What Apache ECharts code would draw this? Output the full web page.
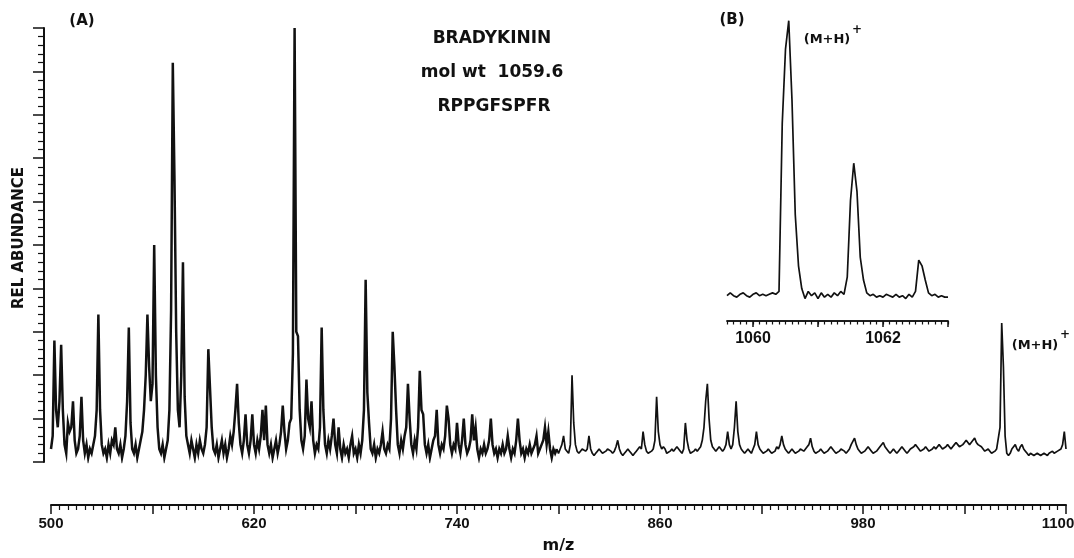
<!DOCTYPE html>
<html>
<head>
<meta charset="utf-8">
<script src="https://cdn.jsdelivr.net/npm/echarts@6.0.0/dist/echarts.min.js"></script>
<style>
  html, body { margin: 0; padding: 0; background: #fff; }
  #main { width: 1074px; height: 558px; }
</style>
</head>
<body>
<div id="main"></div>
<script>
// relative abundance (%), one value per m/z unit
var abund500 = [3,6,28,12,8,14,27,12,4,2, 9,7,8,14,5,2,3,6,15,5, 2,4,1,3,2,4,6,12,34,12, 4,2,3,1,4,2,5,4,8,3,
  2,4,1,3,6,14,31,9,3,2, 4,1,3,5,7,12,20,34,22,14, 18,50,20,8,3,2,4,1,3,5, 12,35,92,65,30,12,8,20,46,15,
  6,4,2,5,3,1,4,2,5,3, 2,4,8,26,26,8,3,2,4,1];
var abund600 = [3,5,2,4,1,3,6,4,7,12, 18,9,4,2,5,11,4,2,5,11, 4,2,5,3,6,12,5,13,4,2, 4,1,3,5,2,4,7,13,7,3,
  5,9,10,25,100,30,29,12,5,3, 6,19,10,8,14,5,2,4,3,8, 31,12,4,2,5,3,6,10,4,2, 8,3,1,4,2,3,1,4,6,2,
  3,1,4,2,5,12,42,16,9,3, 2,4,1,3,2,4,7,3,2,4];
var abund700 = [3,10,30,22,12,4,2,5,3,6, 8,18,10,4,2,5,3,8,21,12, 11,4,2,4,1,3,5,6,12,4, 2,4,3,6,13,10,4,2,4,3,
  9,4,2,5,10,4,2,3,5,11, 5,8,3,1,3,2,4,2,3,5, 10,4,2,3,1,3,2,4,2,3, 6,3,1,3,2,5,10,5,2,3,
  1,3,2,4,2,3,4,6,2,3, 4,5,8,4,7,3,1,3,2,3];
var abund800 = [2,3,4,6,3,2.5,2,4,20,9, 4,2.5,2,2.5,3,3,2.5,3,6,3, 2,1.5,2,2.5,3,2.5,2,2,2.5,3, 3,2.5,2,2.5,3.5,5,3,2,1.5,2,
  2.5,3,2.5,2,1.5,2,2.5,3,3.5,3, 7,4,2.5,2,2,2.5,3,5,15,7, 4,3,3.5,3,2,2,2.5,3,2.5,3, 3.5,3,2.5,2,3,9,5,3,2,2,
  2.5,3,2.5,3,3.5,5,8,14,18,10, 5,3.5,3,2.5,3,3.5,3,2.5,3,4];
var abund900 = [7,4,3,4,8,14,7,4,3,2.5, 2,2.5,3,2.5,2,3,4,7,4,3, 2.5,2,2,2.5,3,2.5,2,2,2.5,3.5, 3,4,6,4,3,2.5,2,2.5,3,2.5,
  2,2,2.5,3,3,2.5,3,3.5,4,5.5, 3.5,2.5,2,2,2.5,3,2.5,2,2,2.5, 3,3.5,3,2.5,2,2,2.5,3,3,2.5, 2,2.5,3,4,4,5.5,4,3,2.5,2,
  2,2.5,3,3.5,3,2.5,2,2,2.5,3, 3.5,3.5,4.5,3.5,3,2.5,2,2.5,3,2.5];
var abund1000 = [2,2.5,3,3.5,3,2.5,2,2.5,3,3, 3.5,4,3.5,3,2.5,2.5,3,3.5,3,2.5, 2.5,3,3.5,3,3.5,4,3.5,3,3,3.5, 4,3.5,3,3.5,4,4.5,4,3.5,3.5,4,
  4.5,5,4.5,4,4.5,5,5.5,4.5,4,4, 3.5,3,2.5,2.5,3,2.5,2,2,2.5,3, 3,8,32,22,6,2,1.5,2,3,3.5, 4,3,2.5,3.5,4,3,2.5,2,1.5,2,
  2,1.5,1.5,2,2,1.5,1.5,2,2,1.5, 2,2,2.5,2,2,2.5,2.5,3,4,7, 3];

// inset (B): isotope cluster of (M+H)+, one value every 0.05 from 1059.60
var insetStart = 1059.6;
var insetStep = 0.05;
var insetAbund = [1.5,2.5,1.5,1,2,2.5,1.5,1, 2,2.5,1.5,2,1.5,2,2.5,2, 3,62,88,98,70,30,12,4,
  0.5,3,1.5,2.5,0.5,2.5,1,2, 1,2.5,1.5,3, 2,8,35,48,38,15,7,2.5, 1.5,2,1,1.5,1,2,1.5,1,
  2,1,1.5,0.5,2,1, 3,14,12,7,2.5,1.5, 2,1,1.5,1,1];

var mainTicks = [500, 620, 740, 860, 980, 1100];
var insetMajor = [1060, 1061, 1062, 1063];
var insetLabels = [1060, 1062];

function toPairs(chunks, first) {
    var out = [];
    chunks.forEach(function (arr, k) {
        for (var i = 0; i < arr.length; i++) {
            out.push([first + k * 100 + i, arr[i]]);
        }
    });
    return out;
}
// dense low-mass part drawn heavier, like the original trace
var denseData = toPairs([abund500, abund600, abund700], 500);
var sparseData = toPairs([abund800, abund900, abund1000], 800);
sparseData.unshift(denseData[denseData.length - 1]);

var insetData = insetAbund.map(function (v, i) {
    return [Math.round((insetStart + i * insetStep) * 100) / 100, v];
});

var ink = '#111';
var numFont = 'Liberation Sans';
var letFont = 'DejaVu Sans';

function txt(x, y, text, size, rot) {
    return {
        type: 'text', x: x, y: y, rotation: rot || 0,
        style: {
            text: text, fill: ink, font: 'bold ' + size + 'px "' + letFont + '"',
            align: 'center', verticalAlign: 'middle', textAlign: 'center', textVerticalAlign: 'middle'
        }
    };
}

var option = {
    animation: false,
    backgroundColor: '#fff',
    grid: [
        { left: 51, right: 8, top: 28, bottom: 96, outerBoundsMode: 'none', containLabel: false },
        { left: 727, width: 221, top: 15, height: 285, outerBoundsMode: 'none', containLabel: false }
    ],
    xAxis: [
        {
            gridIndex: 0, type: 'value', min: 500, max: 1100, interval: 60,
            position: 'bottom', offset: 43,
            axisLine: { onZero: false, lineStyle: { color: ink, width: 2 } },
            axisTick: { length: 9, lineStyle: { color: ink, width: 1.5 } },
            minorTick: { show: true, splitNumber: 12, length: 5, lineStyle: { color: ink, width: 1.2 } },
            splitLine: { show: false },
            axisLabel: {
                margin: 11, color: ink, fontSize: 15, fontWeight: 'bold', fontFamily: numFont,
                formatter: function (v) {
                    if (mainTicks.indexOf(v) < 0) return '';
                    // last label sits against the page edge, as in the original
                    return v === 1100 ? '{edge|' + v + '}' : String(v);
                },
                rich: {
                    edge: { fontSize: 15, fontWeight: 'bold', fontFamily: numFont, color: ink, padding: [0, 16, 0, 0] }
                }
            },
            name: 'm/z', nameLocation: 'middle', nameGap: 33,
            nameTextStyle: { color: ink, fontSize: 16, fontWeight: 'bold', fontFamily: letFont }
        },
        {
            gridIndex: 1, type: 'value', min: 1059.6, max: 1063, interval: 0.1,
            position: 'bottom', offset: 21,
            axisLine: { onZero: false, lineStyle: { color: ink, width: 1.5 } },
            axisTick: { length: 3.5, lineStyle: { color: ink, width: 1.2 } },
            axisLabel: { show: false },
            splitLine: { show: false }
        },
        {
            gridIndex: 1, type: 'value', min: 1059.6, max: 1063,
            position: 'bottom', offset: 21,
            axisLine: { onZero: false, lineStyle: { color: ink, width: 1.5 } },
            axisTick: { customValues: insetMajor, length: 6, lineStyle: { color: ink, width: 1.5 } },
            axisLabel: {
                customValues: insetLabels, margin: 10, color: ink,
                fontSize: 16, fontWeight: 'bold', fontFamily: numFont,
                formatter: function (v) { return String(Math.round(v)); }
            },
            splitLine: { show: false }
        }
    ],
    yAxis: [
        {
            gridIndex: 0, type: 'value', min: 0, max: 100, interval: 10, offset: 7,
            axisLine: { show: true, onZero: false, lineStyle: { color: ink, width: 2 } },
            axisTick: { show: true, length: 11, lineStyle: { color: ink, width: 1.5 } },
            minorTick: { show: true, splitNumber: 5, length: 6, lineStyle: { color: ink, width: 1.2 } },
            axisLabel: { show: false },
            splitLine: { show: false }
        },
        { gridIndex: 1, type: 'value', min: 0, max: 100, show: false }
    ],
    series: [
        {
            type: 'line', xAxisIndex: 0, yAxisIndex: 0, data: denseData,
            showSymbol: false, symbol: 'none',
            lineStyle: { color: ink, width: 2.5, join: 'miter' }
        },
        {
            type: 'line', xAxisIndex: 0, yAxisIndex: 0, data: sparseData,
            showSymbol: false, symbol: 'none',
            lineStyle: { color: ink, width: 1.7 }
        },
        {
            type: 'line', xAxisIndex: 1, yAxisIndex: 1, data: insetData,
            showSymbol: false, symbol: 'none',
            lineStyle: { color: ink, width: 1.7 }
        }
    ],
    graphic: [
        txt(82, 21, '(A)', 15),
        txt(732, 20, '(B)', 15),
        txt(492, 39, 'BRADYKININ', 17),
        txt(492, 73, 'mol wt  1059.6', 17),
        txt(494, 107, 'RPPGFSPFR', 17),
        txt(19, 238, 'REL ABUNDANCE', 15, Math.PI / 2),
        txt(827, 40, '(M+H)', 13),
        txt(857, 30, '+', 12),
        txt(1035, 346, '(M+H)', 13),
        txt(1065, 335, '+', 12)
    ]
};

var myChart = echarts.init(document.getElementById('main'));
myChart.setOption(option);
</script>
</body>
</html>
